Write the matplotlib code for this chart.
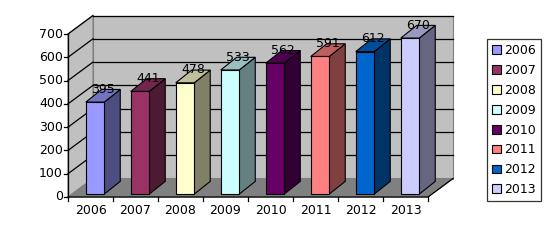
import numpy as np
import matplotlib
matplotlib.use('Agg')
import matplotlib.pyplot as plt
from matplotlib.patches import Polygon, Patch

years = ['2006', '2007', '2008', '2009', '2010', '2011', '2012', '2013']
values = [395, 441, 478, 533, 562, 591, 612, 670]
colors = ['#9999FF', '#993366', '#FFFFCC', '#CCFFFF', '#660066', '#FF8080', '#0066CC', '#CCCCFF']
yticks = [0, 100, 200, 300, 400, 500, 600, 700]

# pixel scale of the front plane (used to set up the data space)
px_cat = 45.0              # pixels per category
px_val = 163.0 / 700       # pixels per value unit
x0_px, y0_px = 68, 197     # where (0, 0) sits in the picture

# 3d depth offsets in data units
DX, DY = 25 / px_cat, 18.5 / px_val        # wall depth
BDX, BDY = 16 / px_cat, 12.7 / px_val      # bar depth
GX, GY = (DX - BDX) / 2, (DY - BDY) / 2
W = 18.5 / px_cat                           # bar width
n = len(values)
ymax = yticks[-1]


def shade(c, f):
    rgb = np.array(matplotlib.colors.to_rgb(c))
    return tuple(rgb * f)


fig = plt.figure(figsize=(5.53, 2.40), dpi=100)
ax = fig.add_axes([0, 0, 1, 1])
ax.set_xlim(-x0_px / px_cat, (553 - x0_px) / px_cat)
ax.set_ylim(-(240 - y0_px) / px_val, y0_px / px_val)
ax.axis('off')

# walls and floor
wall = '#C0C0C0'
ax.add_patch(Polygon([(0, 0), (DX, DY), (DX, ymax + DY), (0, ymax)],
                     facecolor=wall, edgecolor='#808080', lw=0.8, zorder=1))
ax.add_patch(Polygon([(DX, DY), (n + DX, DY), (n + DX, ymax + DY), (DX, ymax + DY)],
                     facecolor=wall, edgecolor='#808080', lw=0.8, zorder=1))
ax.add_patch(Polygon([(0, 0), (n, 0), (n + DX, DY), (DX, DY)],
                     facecolor='#808080', edgecolor='#808080', lw=0.8, zorder=1))

# gridlines on back wall + diagonals on side wall
for t in yticks[1:]:
    ax.plot([DX, n + DX], [t + DY, t + DY], color='black', lw=0.9, zorder=2)
    ax.plot([0, DX], [t, t + DY], color='black', lw=0.9, zorder=2)

# floor front and right edges
ax.plot([0, n, n + DX], [0, 0, DY], color='black', lw=0.9, zorder=2)
# front value axis
ax.plot([0, 0], [0, ymax], color='black', lw=0.9, zorder=2)
for t in yticks:
    ax.plot([-4 / px_cat, 0], [t, t], color='black', lw=0.9, zorder=2)
    ax.text(-5 / px_cat, t, str(t), ha='right', va='center', fontsize=9)
for i in range(n + 1):
    ax.plot([i, i], [0, -4 / px_val], color='black', lw=0.9, zorder=2)

# bars
for i, (v, c) in enumerate(zip(values, colors)):
    xl = i + 0.5 + GX - W / 2
    xr = xl + W
    yb, yt = GY, GY + v
    front = [(xl, yb), (xr, yb), (xr, yt), (xl, yt)]
    top = [(xl, yt), (xr, yt), (xr + BDX, yt + BDY), (xl + BDX, yt + BDY)]
    side = [(xr, yb), (xr + BDX, yb + BDY), (xr + BDX, yt + BDY), (xr, yt)]
    ax.add_patch(Polygon(side, facecolor=shade(c, 0.5), edgecolor='black', lw=0.8, zorder=3))
    ax.add_patch(Polygon(top, facecolor=shade(c, 0.75), edgecolor='black', lw=0.8, zorder=3))
    ax.add_patch(Polygon(front, facecolor=c, edgecolor='black', lw=0.8, zorder=3))
    ax.text(xl + W / 2 + BDX / 2, yt + BDY / 2, str(v), ha='center', va='bottom',
            fontsize=9, zorder=4)
    ax.text(i + 0.5, -7 / px_val, years[i], ha='center', va='top', fontsize=9)

handles = [Patch(facecolor=c, edgecolor='black', lw=0.8, label=y) for y, c in zip(years, colors)]
leg = fig.legend(handles=handles, loc='upper left', bbox_to_anchor=(487 / 553, 1 - 39 / 240),
                 fontsize=9, frameon=True, fancybox=False, borderpad=0.4,
                 handlelength=0.7, handleheight=0.7, handletextpad=0.3,
                 labelspacing=0.55, borderaxespad=0)
leg.get_frame().set_edgecolor('black')
leg.get_frame().set_linewidth(0.9)

fig.savefig('out.png', dpi=100)
